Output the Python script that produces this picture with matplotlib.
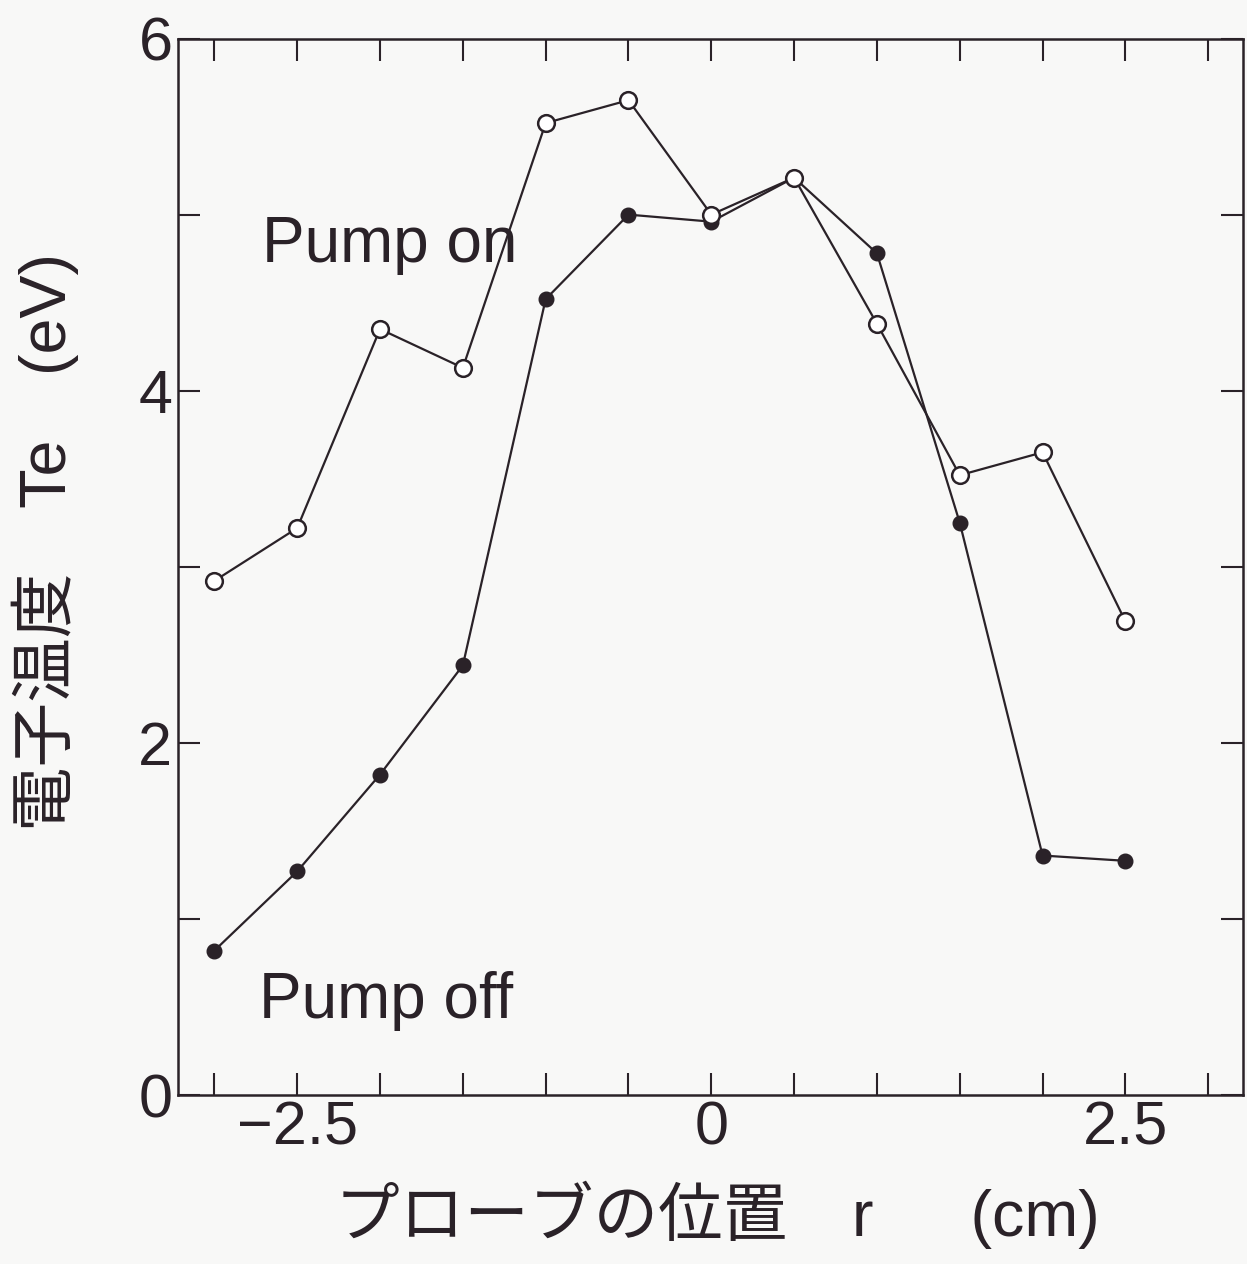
import matplotlib
matplotlib.use('Agg')
from matplotlib import pyplot as plt
import numpy as np

ink = '#2a2228'
paper = '#f8f8f7'

plt.rcParams['font.family'] = ['Liberation Sans', 'Noto Sans CJK JP', 'DejaVu Sans']

# probe position r (cm)
r_pos = [-3.0, -2.5, -2.0, -1.5, -1.0, -0.5, 0.0, 0.5, 1.0, 1.5, 2.0, 2.5]
# electron temperature Te (eV)
te_pump_on = [2.92, 3.22, 4.35, 4.13, 5.52, 5.65, 5.00, 5.21, 4.38, 3.52, 3.65, 2.69]
te_pump_off = [0.82, 1.27, 1.82, 2.44, 4.52, 5.00, 4.96, 5.21, 4.78, 3.25, 1.36, 1.33]

x_ticks = np.arange(-3.0, 3.01, 0.5)
x_labels = {-2.5: '\u22122.5', 0.0: '0', 2.5: '2.5'}
y_ticks = np.arange(0, 7, 1)
y_labels = {0: '0', 2: '2', 4: '4', 6: '6'}

fig = plt.figure(figsize=(12.47, 12.64), dpi=100, facecolor=paper)
ax = fig.add_axes([0.1427, 0.1337, 0.8541, 0.8358], facecolor=paper)

ax.plot(r_pos, te_pump_off, color=ink, lw=1.6, marker='o', markersize=10.5,
        markerfacecolor=ink, markeredgecolor=ink, zorder=3)
ax.plot(r_pos, te_pump_on, color=ink, lw=1.6, marker='o', markersize=12,
        markerfacecolor='white', markeredgecolor=ink, markeredgewidth=1.8, zorder=4)

ax.text(-2.71, 4.73, 'Pump on', fontsize=46, color=ink, ha='left', va='baseline')
ax.text(-2.73, 0.44, 'Pump off', fontsize=46, color=ink, ha='left', va='baseline')

ax.set_xlim(-3.22, 3.21)
ax.set_ylim(0, 6)

ax.set_xticks(x_ticks, labels=[x_labels.get(round(t, 1), '') for t in x_ticks])
ax.set_yticks(y_ticks, labels=[y_labels.get(int(t), '') for t in y_ticks])
ax.tick_params(direction='in', length=16, width=1.5, colors=ink, labelsize=44,
               top=True, right=True)
ax.tick_params(axis='x', pad=4)
ax.tick_params(axis='y', pad=4)
for s in ax.spines.values():
    s.set_color(ink)
    s.set_linewidth(1.8)

fig.text(0.575, 0.039, 'プローブの位置\u3000r\u3000\u2002(cm)', fontsize=46.5,
         color=ink, ha='center', va='center')
fig.text(0.036, 0.571, '電子温度\u3000Te\u3000(eV)', fontsize=46.5, color=ink,
         ha='center', va='center', rotation=90)

fig.savefig('out.png', dpi=100, facecolor=paper)
